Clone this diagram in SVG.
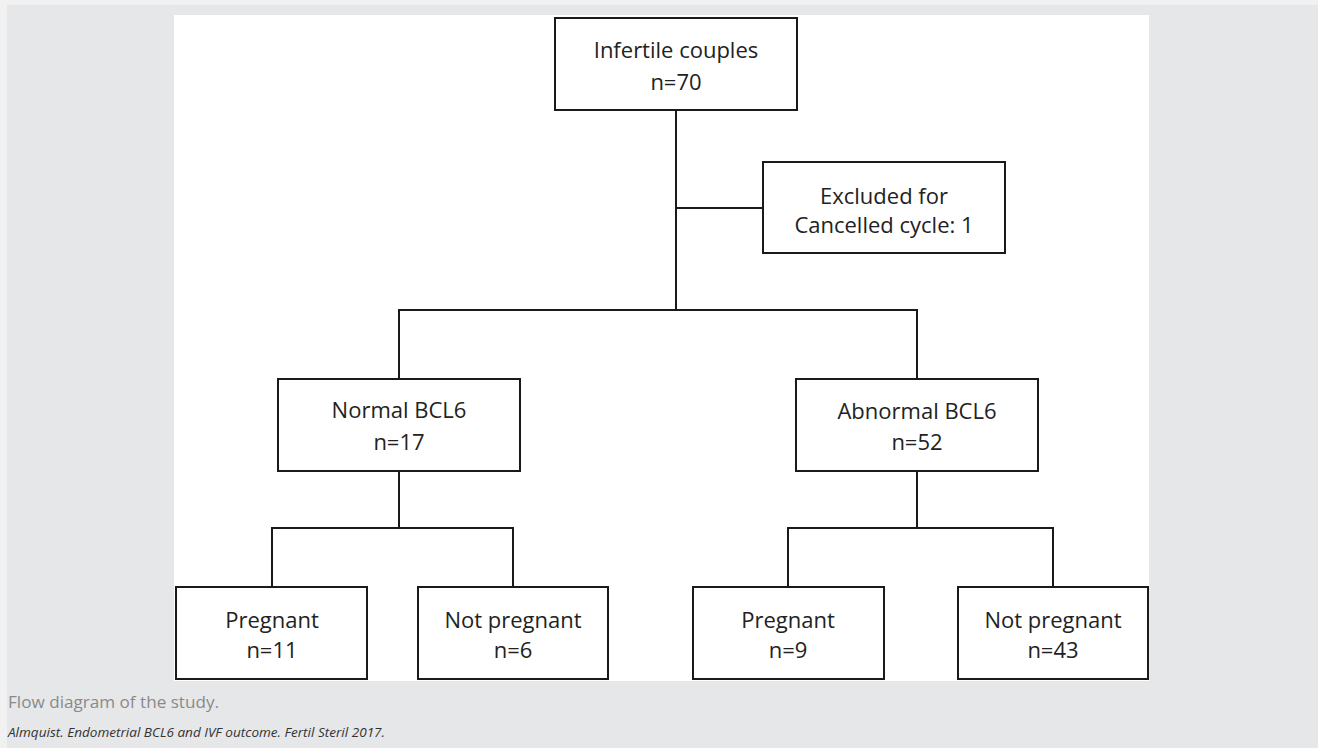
<svg xmlns="http://www.w3.org/2000/svg" width="1318" height="748" viewBox="0 0 1318 748">
<style>
.box{fill:#ffffff;stroke:#1a1a1a;stroke-width:2}
.lbl{font-family:"Open Sans","Liberation Sans",sans-serif;font-size:22px;fill:#222;text-anchor:middle}
.conn{fill:none;stroke:#1a1a1a;stroke-width:2}
.cap{font-family:"Open Sans","Liberation Sans",sans-serif;font-size:17px;fill:#8a8a8a}
.src{font-family:"Open Sans","Liberation Sans",sans-serif;font-size:13px;font-style:italic;fill:#333}
</style>
<rect x="0" y="0" width="1318" height="748" fill="#f1f1f2"/>
<rect x="7" y="5" width="1311" height="743" fill="#e6e7e9"/>
<rect x="174" y="15" width="975" height="666" fill="#ffffff"/>
<g id="connectors">
<path class="conn" d="M676 110V310"/>
<path class="conn" d="M676 208H763"/>
<path class="conn" d="M399 379V310H917V379"/>
<path class="conn" d="M399 471V528"/>
<path class="conn" d="M272 587V528H513V587"/>
<path class="conn" d="M917 471V528"/>
<path class="conn" d="M788 587V528H1053V587"/>
</g>
<g id="n-infertile">
<rect class="box" x="555" y="18" width="242" height="92"/>
<text class="lbl" x="676" y="58">Infertile couples</text>
<text class="lbl" x="676" y="90">n=70</text>
</g>
<g id="n-excluded">
<rect class="box" x="763" y="162" width="242" height="91"/>
<text class="lbl" x="884" y="204">Excluded for</text>
<text class="lbl" x="884" y="233">Cancelled cycle: 1</text>
</g>
<g id="n-normal">
<rect class="box" x="278" y="379" width="242" height="92"/>
<text class="lbl" x="399" y="418">Normal BCL6</text>
<text class="lbl" x="399" y="450">n=17</text>
</g>
<g id="n-abnormal">
<rect class="box" x="796" y="379" width="242" height="92"/>
<text class="lbl" x="917" y="419">Abnormal BCL6</text>
<text class="lbl" x="917" y="450">n=52</text>
</g>
<g id="n-preg1">
<rect class="box" x="176" y="587" width="191" height="92"/>
<text class="lbl" x="272" y="628">Pregnant</text>
<text class="lbl" x="272" y="658">n=11</text>
</g>
<g id="n-notpreg1">
<rect class="box" x="418" y="587" width="190" height="92"/>
<text class="lbl" x="513" y="628">Not pregnant</text>
<text class="lbl" x="513" y="658">n=6</text>
</g>
<g id="n-preg2">
<rect class="box" x="693" y="587" width="191" height="92"/>
<text class="lbl" x="788" y="628">Pregnant</text>
<text class="lbl" x="788" y="658">n=9</text>
</g>
<g id="n-notpreg2">
<rect class="box" x="958" y="587" width="190" height="92"/>
<text class="lbl" x="1053" y="628">Not pregnant</text>
<text class="lbl" x="1053" y="658">n=43</text>
</g>
<text class="cap" x="8" y="708" textLength="211" lengthAdjust="spacingAndGlyphs">Flow diagram of the study.</text>
<text class="src" x="8" y="737" textLength="377" lengthAdjust="spacingAndGlyphs">Almquist. Endometrial BCL6 and IVF outcome. Fertil Steril 2017.</text>
</svg>
